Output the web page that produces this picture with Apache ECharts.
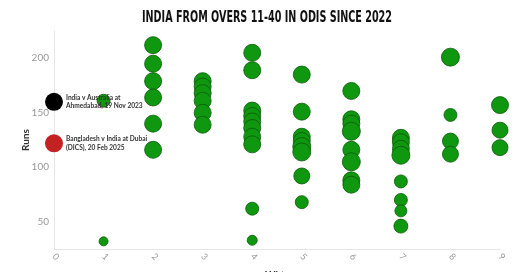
<!DOCTYPE html>
<html><head><meta charset="utf-8">
<script src="https://cdn.jsdelivr.net/npm/echarts@6/dist/echarts.min.js"></script>
<style>html,body{margin:0;padding:0;background:#fff}#c{width:520px;height:272px}</style>
</head><body><div id="c"></div>
<script>
const titleText = "INDIA FROM OVERS 11-40 IN ODIS SINCE 2022";
const xTicks = [0,1,2,3,4,5,6,7,8,9];
const yTicks = [50,100,150,200];
const wkts = [1,1, 2,2,2,2,2,2, 3,3,3,3,3,3, 4,4,4,4,4,4,4,4,4,4, 5,5,5,5,5,5,5,5, 6,6,6,6,6,6,6,6, 7,7,7,7,7,7,7,7, 8,8,8,8, 9,9,9];
const runs = [32,161, 212,195,179,164,140,116, 179,174,168,161,150,139, 205,189,152,147,142,136,128,121,62,33, 185,151,128,124,119,114,92,68, 170,144,140,133,116,105,88,84, 127,123,117,111,87,70,60,46, 201,148,124,112, 157,134,118];
const sizes = [9,13, 17,17,17,17,17,17, 17,17,17,17,17,17, 17,17,17,17,17,17,17,17,13,10, 17,17,17,17,18,18,16,13, 17,17,17,18,17,18,17,17, 17,17,17,18,13,13,12,14, 18,13,16,16, 17,16,16];
const noteNames = ["India v Australia at\nAhmedabad, 19 Nov 2023", "Bangladesh v India at Dubai\n(DICS), 20 Feb 2025"];
const noteWkts = [0, 0];
const noteRuns = [160, 122];
const noteColors = ["#000000", "#c42222"];

const titleFont = "bold 15px 'DejaVu Sans Condensed', 'DejaVu Sans', sans-serif";
const ctx = document.createElement('canvas').getContext('2d');
ctx.font = titleFont;
const tScale = 250 / ctx.measureText(titleText).width;

const chart = echarts.init(document.getElementById('c'), null, {renderer:'canvas'});
const pts = wkts.map((w,i)=>[w, runs[i], sizes[i]]);
const notes = noteWkts.map((w,i)=>({value:[w, noteRuns[i]], name:noteNames[i], itemStyle:{color:noteColors[i]}}));
chart.setOption({
  animation:false,
  graphic:[{type:'text',x:267,y:18,scaleX:tScale,scaleY:1,
    style:{text:titleText,font:titleFont,fill:'#111',textAlign:'center',textVerticalAlign:'middle'}}],
  grid:{left:54,right:20,top:31,bottom:23,outerBoundsMode:'none',containLabel:false},
  xAxis:{type:'value',min:0,max:9,interval:1,name:'Wkts',nameLocation:'middle',nameGap:20.5,nameMoveOverlap:false,
    nameTextStyle:{fontFamily:'Lato',fontWeight:'bold',fontSize:10,color:'#333'},
    axisLine:{show:true,lineStyle:{color:'#e6e6e6'}},axisTick:{show:false},splitLine:{show:false},
    axisLabel:{rotate:-45,fontSize:9,color:'#999',fontFamily:'Lato',margin:6,
      formatter:v=>xTicks.includes(v)?String(v):''}},
  yAxis:{type:'value',min:25,max:225,name:'Runs',nameLocation:'middle',nameGap:23,nameMoveOverlap:false,
    nameTextStyle:{fontFamily:'Lato',fontWeight:'bold',fontSize:10,color:'#333'},
    axisLine:{show:true,lineStyle:{color:'#e6e6e6'}},axisTick:{show:false},splitLine:{show:false},
    axisLabel:{fontSize:10,color:'#999',fontFamily:'Lato',margin:5,
      customValues:yTicks}},
  series:[
    {type:'scatter',data:pts,symbolSize:d=>d[2],clip:false,
     itemStyle:{color:'#0f970f',borderColor:'#0a5a0a',borderWidth:0.8,opacity:1}},
    {type:'scatter',data:notes,symbolSize:18,clip:false,z:5,
     itemStyle:{borderWidth:0,opacity:1},
     label:{show:true,position:'right',distance:3,formatter:p=>p.name,
       fontFamily:'Lato',fontWeight:'bold',fontSize:6.6,lineHeight:8.5,color:'#333'}}
  ]
});
</script></body></html>
